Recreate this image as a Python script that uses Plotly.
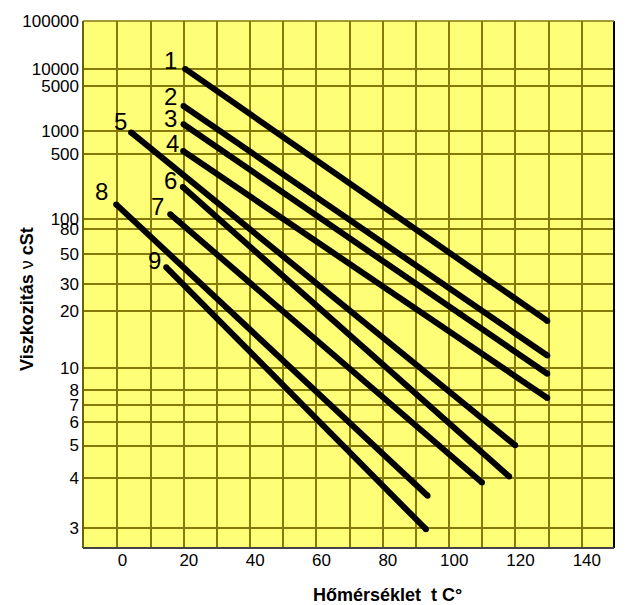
import numpy as np
import plotly.graph_objects as go

# ---- data (temperature in °C, viscosity in cSt) ----
line_names = ["1", "2", "3", "4", "5", "6", "7", "8", "9"]
t_start = [20.4, 19.9, 19.9, 19.8, 4.1, 19.7, 15.9, -0.4, 14.7]
t_end = [129.6, 129.6, 129.6, 129.6, 119.9, 118.1, 109.9, 93.5, 93.0]
v_start = [10100, 2360, 1255, 546, 962, 207, 110, 137, 39.5]
v_end = [17.6, 11.5, 9.43, 7.43, 5.01, 4.03, 3.88, 3.58, 2.98]

label_t = [15.9, 16.1, 15.9, 16.5, 1.0, 15.9, 12.1, -4.9, 11.1]
label_v = [12500, 2990, 1387, 621, 1243, 229, 122, 172, 42.5]

y_tick_values = [3, 4, 5, 6, 7, 8, 10, 20, 30, 50, 80, 100, 500, 1000, 5000, 10000, 100000]
x_tick_values = list(range(0, 150, 10))
x_tick_labels = [str(v) if v % 20 == 0 else "" for v in x_tick_values]


def walther(v):
    # viscosity-chart scale: log(log(v))
    return np.log10(np.log10(np.asarray(v, dtype=float)))


FONT = "Liberation Sans, Arial, sans-serif"
GRID = "#85790a"

fig = go.Figure()
for i, name in enumerate(line_names):
    fig.add_trace(go.Scatter(
        x=[t_start[i], t_end[i]],
        y=walther([v_start[i], v_end[i]]),
        mode="lines+markers",
        line=dict(color="black", width=6),
        marker=dict(color="black", size=6),
        showlegend=False,
        hoverinfo="skip",
    ))

ly = walther(label_v)
for i, name in enumerate(line_names):
    fig.add_annotation(
        x=label_t[i], y=ly[i], text=name, showarrow=False,
        font=dict(family=FONT, size=24, color="black"),
        xanchor="center", yanchor="middle", yshift=3,
    )

fig.add_annotation(
    xref="paper", yref="paper", x=0.574, y=0, yshift=-47,
    text="<b>Hőmérséklet\u00a0 t C°</b>", showarrow=False,
    font=dict(family=FONT, size=18, color="black"),
    xanchor="center", yanchor="middle",
)
fig.add_annotation(
    xref="paper", yref="paper", x=0, xshift=-56, y=0.4727,
    text="<b>Viszkozitás</b> ν <b>cSt</b>", showarrow=False, textangle=-90,
    font=dict(family=FONT, size=18, color="black"),
    xanchor="center", yanchor="middle",
)

# plot frame edges
fig.add_shape(type="line", xref="paper", yref="paper", x0=1, x1=1, y0=0, y1=1,
              line=dict(color="black", width=2))
fig.add_shape(type="line", xref="paper", yref="paper", x0=0, x1=1, y0=1, y1=1,
              line=dict(color=GRID, width=1.5))
fig.add_shape(type="line", xref="paper", yref="paper", x0=0, x1=0, y0=0, y1=1,
              line=dict(color="#6b6208", width=2))
fig.add_shape(type="line", xref="paper", yref="paper", x0=0, x1=1, y0=0, y1=0,
              line=dict(color="#444444", width=2))

fig.update_layout(
    width=628, height=605,
    margin=dict(l=83, r=14, t=17, b=57),
    paper_bgcolor="white",
    plot_bgcolor="#ffff77",
    font=dict(family=FONT, size=17, color="black"),
)
fig.update_xaxes(
    range=[-10.4, 149.7],
    tickmode="array", tickvals=x_tick_values, ticktext=x_tick_labels,
    showgrid=True, gridcolor=GRID, gridwidth=1.5,
    zeroline=False, showline=False, ticks="",
    tickfont=dict(family=FONT, size=17, color="black"),
    ticklabelshift=5,
)
fig.update_yaxes(
    range=[-0.3618, 0.69897],
    tickmode="array", tickvals=walther(y_tick_values),
    ticktext=[str(v) for v in y_tick_values],
    showgrid=True, gridcolor=GRID, gridwidth=1.5,
    zeroline=False, showline=False, ticks="",
    tickfont=dict(family=FONT, size=17, color="black"),
    ticklabelstandoff=3,
)

fig.write_html("out.html")
